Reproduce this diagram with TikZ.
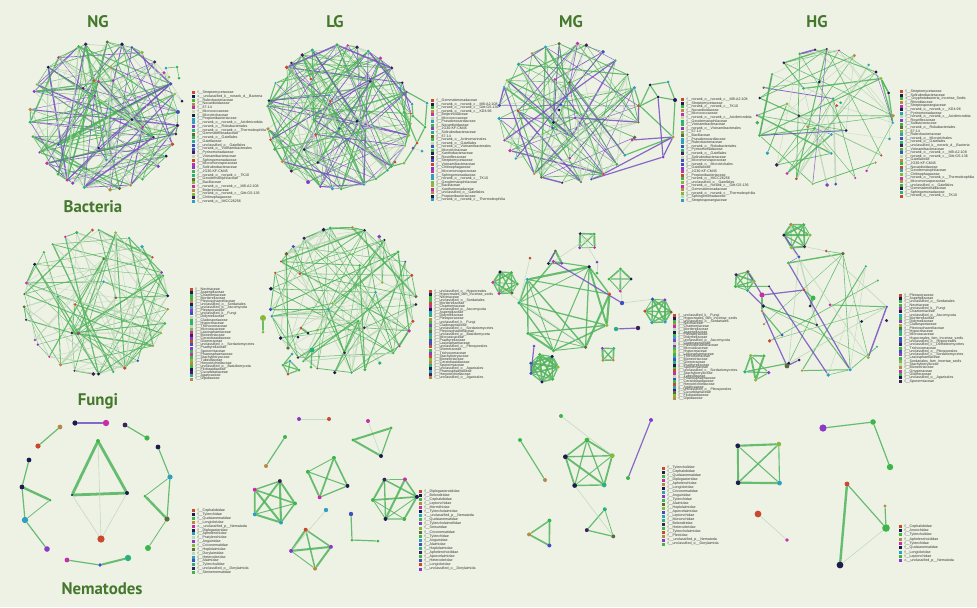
\documentclass[tikz,border=0pt]{standalone}
\usepackage{fontspec}
\setmainfont{Liberation Sans}
\newfontfamily\headfont{PT Sans}
\usetikzlibrary{backgrounds}
\definecolor{cBg}{HTML}{EEF2E5}
\definecolor{cHead}{HTML}{44782C}
\definecolor{eG}{HTML}{4FB35B}
\definecolor{eP}{HTML}{7650C2}
\definecolor{eL}{HTML}{BCD8B8}
\definecolor{n1}{HTML}{C8492E}
\definecolor{n2}{HTML}{1C1C4E}
\definecolor{n3}{HTML}{3DB54A}
\definecolor{n4}{HTML}{B58A45}
\definecolor{n5}{HTML}{C52FA8}
\definecolor{n6}{HTML}{2F9FBF}
\definecolor{n7}{HTML}{8A39C9}
\definecolor{n8}{HTML}{5E6B3A}
\definecolor{n9}{HTML}{3F4FC0}
\definecolor{n10}{HTML}{86B83C}
\definecolor{n11}{HTML}{2AB07F}
\definecolor{n12}{HTML}{40205A}
\pgfmathdeclarerandomlist{ncol}{{n1}{n2}{n3}{n4}{n5}{n6}{n7}{n8}{n9}{n10}{n11}{n12}{n3}{n2}}
\pgfmathdeclarerandomlist{bcol}{{eG}{eG}{eG}{eG}{eP}{eP}{eL}{eL}}
\pgfmathdeclarerandomlist{hcol}{{eG}{eG}{eG}{eG}{eG}{eP}{eL}{eL}{eL}}
\pgfmathdeclarerandomlist{fcol}{{eG}{eG}{eG}{eG}{eG}{eL}{eL}{eL}}
\tikzset{
  dot/.style={circle, inner sep=0pt, minimum size=1.5pt},
  bead/.style={circle, inner sep=0pt, minimum size=2.5pt},
  link/.style={line cap=round, opacity=0.85},
  faint/.style={link, draw=eL, line width=0.3pt},
  gl/.style={link, draw=eG, line width=0.6pt},
  pl/.style={link, draw=eP, line width=0.6pt},
  head/.style={font=\headfont\bfseries\fontsize{8.4}{9}\selectfont, text=cHead, inner sep=0pt},
  lgbox/.style={inner sep=0pt, minimum size=1.5pt},
  lgtext/.style={font=\fontsize{1.8}{2}\selectfont, inner sep=0.2pt, anchor=west, text=black!80},
}
\begin{document}
\begin{tikzpicture}[x=0.5pt, y=-0.5pt]
  \path[use as bounding box] (0,0) rectangle (977,607);
  \begin{scope}[on background layer]
    \fill[cBg] (0,0) rectangle (977,607);
  \end{scope}

  % --- headings ---
  \node[head] (hng) at (98,22) {NG};
  \node[head] (hlg) at (335,22) {LG};
  \node[head] (hmg) at (571,22) {MG};
  \node[head] (hhg) at (817,22) {HG};
  \node[head] (hbac) at (93,207) {Bacteria};
  \node[head] (hfun) at (98,401) {Fungi};
  \node[head] (hnem) at (102,589) {Nematodes};

  % --- circular networks ---
  \foreach \pn/\cx/\cy/\rr/\nr/\ni/\ne/\el/\sd in
     {bng/104/116/74/34/16/200/bcol/3,
      blg/339/117/72/32/12/200/bcol/5,
      bmg/569/113/70/28/12/130/bcol/7,
      bhg/825/117/68/30/12/75/hcol/9,
      fng/96/302/72/32/8/120/fcol/11,
      flg/343/300/73/32/10/130/fcol/13,
      fhg/825/313/62/18/3/26/hcol/17} {
    \pgfmathsetseed{\sd}
    \pgfmathtruncatemacro\nn{\nr+\ni}
    \foreach \i in {1,...,\nr} {
      \pgfmathrandomitem\nc{ncol}
      \pgfmathsetmacro\ang{(\i-0.5)*360/\nr+5*rand}
      \pgfmathsetmacro\sz{1.1+0.9*rnd}
      \node[dot, fill=\nc, minimum size=\sz pt] (\pn\i) at ([shift={(\cx,\cy)}]\ang:\rr) {};
    }
    \foreach \i in {1,...,\ni} {
      \pgfmathtruncatemacro\jj{\nr+\i}
      \pgfmathrandomitem\nc{ncol}
      \pgfmathsetmacro\ang{360*rnd}
      \pgfmathsetmacro\rad{\rr*(0.1+0.65*rnd)}
      \node[dot, fill=\nc] (\pn\jj) at ([shift={(\cx,\cy)}]\ang:\rad) {};
    }
    \begin{scope}[on background layer]
      \foreach \k in {1,...,\ne} {
        \pgfmathtruncatemacro\ia{random(1,\nn)}
        \pgfmathtruncatemacro\ib{random(1,\nn)}
        \pgfmathtruncatemacro\ib{\ib==\ia ? mod(\ia,\nn)+1 : \ib}
        \pgfmathrandomitem\ec{\el}
        \pgfmathsetmacro\w{0.2+0.7*rnd*rnd}
        \draw[link, draw=\ec, line width=\w pt] (\pn\ia) -- (\pn\ib);
      }
    \end{scope}
  }

  % --- small cliques ---
  \foreach \pn/\cx/\cy/\rr/\nk/\rot/\ns/\pr/\sd in
     {fmg/565/306/46/9/-100/1.8/0.6/41,
      fmqa/505/283/12/6/0/1.8/1/21, fmqb/587/241/10/4/45/1.6/1/22,
      fmqc/658/311/13/6/0/1.8/1/23, fmqd/620/280/11/4/0/1.6/1/24,
      fmqe/608/354/8/4/45/1.6/1/25, fmqf/544/368/14/7/0/1.8/1/26,
      fmqg/555/259/8/3/30/1.6/1/27,
      fhqa/797/236/13/6/0/1.8/0.9/31, fhqb/744/281/10/5/0/1.8/1/32,
      fhqc/757/367/13/5/20/1.8/0.9/33,
      nlqa/273/502/22/5/0/2/1/51, nlqb/328/478/21/4/20/2/1/52,
      nlqc/311/549/20/4/-10/2/1/53, nlqd/395/499/22/6/0/2/0.9/54,
      nmqa/589/465/25/5/-90/2.4/1/61, nmqb/543/533/14/3/-60/2/1/62,
      nmqc/602/525/16/3/-80/2/1/63,
      nhqa/759/464/28/4/45/2.4/1/71} {
    \pgfmathsetseed{\sd}
    \foreach \i in {1,...,\nk} {
      \pgfmathrandomitem\nc{ncol}
      \pgfmathsetmacro\ang{\i*360/\nk+\rot+6*rand}
      \node[dot, fill=\nc, minimum size=\ns pt] (\pn\i) at ([shift={(\cx,\cy)}]\ang:\rr) {};
    }
    \begin{scope}[on background layer]
      \foreach \ia in {1,...,\nk} {
        \foreach \ib in {1,...,\nk} {
          \ifnum\ia<\ib
            \pgfmathsetmacro\w{0.35+0.75*rnd}
            \pgfmathsetmacro\dr{rnd<\pr ? 1 : 0}
            \ifdim\dr pt>0.5pt
              \draw[link, draw=eG, line width=\w pt] (\pn\ia) -- (\pn\ib);
            \fi
          \fi
        }
      }
    \end{scope}
  }

  % --- bacteria extras ---
  \node[dot, fill=n6] (bngx1) at (166,68) {};
  \node[dot, fill=n3] (bngx2) at (177,67) {};
  \node[dot, fill=n3] (bngx3) at (179,78) {};
  \node[dot, fill=n10] (bngx4) at (169,77) {};
  \node[dot, fill=n2] (bngx5) at (182,101) {};
  \node[dot, fill=n6] (blgx1) at (400,88) {};
  \node[dot, fill=n6] (blgx2) at (427,103) {};
  \node[dot, fill=n6] (blgx3) at (412,104) {};
  \node[dot, fill=n3] (blgx4) at (404,112) {};
  \node[dot, fill=n3] (blgx5) at (413,116) {};
  \node[dot, fill=n3] (blgx6) at (425,127) {};
  \node[dot, fill=n1] (blgx7) at (417,143) {};
  \node[dot, fill=n7] (blgx8) at (413,148) {};
  \node[dot, fill=n6] (blgx9) at (422,151) {};
  \node[dot, fill=n10] (blgx10) at (404,163) {};
  \node[dot, fill=n1] (blgx11) at (395,162) {};
  \node[dot, fill=n2] (bmgx1) at (650,85) {};
  \node[dot, fill=n6] (bmgx2) at (668,82) {};
  \node[dot, fill=n2] (bmgx3) at (658,97) {};
  \node[dot, fill=n2, minimum size=2pt] (bmgx4) at (675,100) {};
  \node[dot, fill=n3] (bmgx5) at (640,106) {};
  \node[dot, fill=n4] (bmgx6) at (673,137) {};
  \node[dot, fill=n7] (bmgx7) at (663,157) {};
  \node[dot, fill=n5] (bmgx8) at (632,140) {};
  \begin{scope}[on background layer]
    \draw[gl, line width=0.3pt] (bngx1) -- (bngx2) -- (bngx3);
    \draw[faint] (bngx4) -- (bngx1);
    \draw[faint] (bngx4) -- (bng30);
    \draw[faint] (bngx5) -- (bng33);
    \draw[faint] (bngx5) -- (bng31);
    \draw[gl] (blgx1) -- (blgx2);
    \draw[gl] (blgx1) -- (blgx4);
    \draw[gl] (blgx3) -- (blgx5);
    \draw[gl] (blgx2) -- (blgx6);
    \draw[gl] (blgx5) -- (blgx6);
    \draw[gl] (blgx4) -- (blgx7);
    \draw[gl] (blgx6) -- (blgx7);
    \draw[pl, line width=0.3pt] (blgx7) -- (blgx8);
    \draw[faint] (blgx8) -- (blgx9);
    \draw[gl] (blgx7) -- (blgx10);
    \draw[gl] (blgx1) -- (blg30);
    \draw[gl] (blgx4) -- (blg31);
    \draw[gl] (blgx4) -- (blg2);
    \draw[gl] (blgx10) -- (blg4);
    \draw[gl] (blgx11) -- (blg5);
    \draw[pl] (blgx3) -- (blg27);
    \draw[gl] (bmgx1) -- (bmgx2);
    \draw[gl] (bmgx2) -- (bmgx4);
    \draw[gl] (bmgx1) -- (bmgx3);
    \draw[gl] (bmgx3) -- (bmgx4);
    \draw[gl] (bmgx1) -- (bmgx5);
    \draw[gl] (bmgx3) -- (bmgx5);
    \draw[gl] (bmgx5) -- (bmgx6);
    \draw[gl] (bmgx4) -- (bmgx6);
    \draw[pl] (bmgx6) -- (bmgx7);
    \draw[pl] (bmgx3) -- (bmgx7);
    \draw[pl] (bmgx6) -- (bmgx8);
    \draw[gl] (bmgx5) -- (bmg27);
    \draw[pl] (bmgx8) -- (bmg2);
    \draw[gl] (bmgx6) -- (bmg3);
    \draw[pl] (bmgx7) -- (bmg6);
    \draw[pl] (bmgx6) -- (bmg5);
  \end{scope}

  % --- fungi extras ---
  \node[bead, fill=n10, minimum size=3pt] (flgx1) at (263,318) {};
  \node[dot, fill=n10] (flgx2) at (263,332) {};
  \node[dot, fill=n2] (flgx3) at (298,337) {};
  \node[dot, fill=n1] (flgx4) at (301,328) {};
  \node[dot, fill=n2] (flgx5) at (308,333) {};
  \node[dot, fill=n6] (flgx6) at (292,354) {};
  \node[bead, fill=n11] (flgx7) at (312,350) {};
  \node[dot, fill=n3] (flgx8) at (311,367) {};
  \node[dot, fill=n3] (flgx9) at (283,365) {};
  \node[dot, fill=n6] (flgx10) at (290,361) {};
  \node[dot, fill=n3] (flgx11) at (299,370) {};
  \node[dot, fill=n1] (flgx12) at (288,374) {};
  \node[dot, fill=n1] (fmgx1) at (530,258) {};
  \node[dot, fill=n9, minimum size=2.2pt] (fmgx2) at (622,303) {};
  \node[dot, fill=n11, minimum size=2.2pt] (fmgx3) at (616,329) {};
  \node[dot, fill=n12, minimum size=2.2pt] (fmgx4) at (638,328) {};
  \node[dot, fill=n7] (fmgx5) at (534,346) {};
  \node[dot, fill=n7] (fmgx6) at (597,262) {};
  \node[dot, fill=n3] (fmgx7) at (597,273) {};
  \node[bead, fill=n5, minimum size=2.6pt] (fhgx1) at (762,295) {};
  \node[dot, fill=n4] (fhgx2) at (762,311) {};
  \node[dot, fill=n9] (fhgx3) at (782,335) {};
  \node[dot, fill=n1] (fhgx4) at (804,290) {};
  \node[bead, fill=n3] (fhgx5) at (813,298) {};
  \node[dot, fill=n2] (fhgx6) at (810,306) {};
  \node[dot, fill=n8, minimum size=2.4pt] (fhgx7) at (787,366) {};
  \node[dot, fill=n12] (fhgx8) at (799,360) {};
  \begin{scope}[on background layer]
    \draw[gl] (flgx1) -- (flgx2);
    \draw[gl, line width=1pt] (flgx4) -- (flgx5);
    \draw[faint] (flgx3) -- (flgx6);
    \draw[gl] (flgx6) -- (flgx9);
    \draw[gl] (flgx7) -- (flgx8);
    \draw[gl] (flgx9) -- (flgx10) -- (flgx11) -- (flgx12) -- (flgx9);
    \draw[gl] (flgx9) -- (flgx11);
    \draw[gl] (flgx10) -- (flgx12);
    \draw[faint] (flgx7) -- (flg13);
    \draw[faint] (fmgx1) -- (fmg7);
    \draw[pl] (fmgx2) -- (fmg9);
    \draw[faint] (fmgx2) -- (fmqc4);
    \draw[pl] (fmgx3) -- (fmgx4);
    \draw[pl] (fmgx5) -- (fmqf3);
    \draw[faint] (fmqb2) -- (fmgx6);
    \draw[faint] (fmgx6) -- (fmgx7);
    \draw[faint] (fmqb3) -- (fmg9);
    \draw[pl] (fmqg1) -- (fmqg2);
    \draw[faint] (fmqd3) -- (fmgx2);
    \draw[faint] (fmqa3) -- (fmg4);
    \draw[pl] (fhgx1) -- (fhgx4);
    \draw[pl] (fhgx1) -- (fhqb4);
    \draw[gl] (fhgx1) -- (fhgx2);
    \draw[gl] (fhgx2) -- (fhgx3);
    \draw[gl] (fhgx4) -- (fhgx5);
    \draw[gl, line width=1pt] (fhgx5) -- (fhgx6);
    \draw[pl] (fhgx2) -- (fhgx7);
    \draw[pl] (fhgx7) -- (fhgx8);
    \draw[pl] (fhqa3) -- (fhg13);
    \draw[faint] (fhqa1) -- (fhg14);
    \draw[pl] (fhqb1) -- (fhg10);
    \draw[gl] (fhqb2) -- (fhg11);
    \draw[pl] (fhg12) -- (fhg4);
    \draw[pl] (fhg11) -- (fhg5);
    \draw[gl] (fhqc2) -- (fhg7);
    \draw[faint] (fhqa2) -- (fhg3);
  \end{scope}

  % --- nematodes, NG ---
  \node[bead, fill=n2, minimum size=2.6pt] (nng1) at (75,423) {};
  \node[bead, fill=n5, minimum size=3.2pt] (nng2) at (106,423) {};
  \node[bead, fill=n12, minimum size=2.4pt] (nng3) at (125,425) {};
  \node[bead, fill=n3, minimum size=2.6pt] (nng4) at (147,438) {};
  \node[bead, fill=n4, minimum size=2.4pt] (nng5) at (60,427) {};
  \node[bead, fill=n1, minimum size=2.6pt] (nng6) at (38,446) {};
  \node[bead, fill=n2, minimum size=2.4pt] (nng7) at (158,447) {};
  \node[bead, fill=n6, minimum size=2.6pt] (nng8) at (170,477) {};
  \node[bead, fill=n2, minimum size=2.4pt] (nng9) at (29,460) {};
  \node[bead, fill=n2, minimum size=2.4pt] (nng10) at (22,487) {};
  \node[dot, fill=n3] (nng11) at (50,500) {};
  \node[bead, fill=n6, minimum size=3.2pt] (nng12) at (25,520) {};
  \node[bead, fill=n7, minimum size=2.8pt] (nng13) at (47,549) {};
  \node[dot, fill=n3] (nng14) at (145,496) {};
  \node[bead, fill=n8, minimum size=2.6pt] (nng15) at (167,519) {};
  \node[bead, fill=n3, minimum size=3pt] (nng16) at (148,548) {};
  \node[bead, fill=n5, minimum size=2.4pt] (nng17) at (67,560) {};
  \node[dot, fill=n9, minimum size=1.8pt] (nng18) at (100,565) {};
  \node[bead, fill=n11, minimum size=3.2pt] (nng19) at (128,558) {};
  \node[dot, fill=n3, minimum size=2pt] (nng20) at (98,441) {};
  \node[dot, fill=n2, minimum size=1.2pt] (nng21) at (72,495) {};
  \node[dot, fill=n2, minimum size=2pt] (nng22) at (127,493) {};
  \node[bead, fill=n1, minimum size=3.6pt] (nng23) at (101,539) {};
  \begin{scope}[on background layer]
    \draw[pl, line width=0.9pt] (nng1) -- (nng2);
    \draw[gl] (nng3) -- (nng4);
    \draw[gl] (nng5) -- (nng6);
    \draw[gl] (nng7) -- (nng8);
    \draw[gl] (nng9) -- (nng10);
    \draw[gl, line width=1.2pt] (nng10) -- (nng11);
    \draw[gl] (nng10) -- (nng12);
    \draw[gl, line width=0.4pt] (nng11) -- (nng12);
    \draw[gl] (nng12) -- (nng13);
    \draw[gl, line width=0.4pt] (nng8) -- (nng14);
    \draw[gl, line width=1.2pt] (nng14) -- (nng15);
    \draw[gl] (nng8) -- (nng15);
    \draw[gl, line width=0.4pt] (nng15) -- (nng16);
    \draw[gl] (nng17) -- (nng18);
    \draw[gl, line width=1pt] (nng18) -- (nng19);
    \draw[gl, line width=1.4pt] (nng20) -- (nng21);
    \draw[gl, line width=1.4pt] (nng20) -- (nng22);
    \draw[gl, line width=1.4pt] (nng21) -- (nng22);
    \draw[faint] (nng21) -- (nng23);
    \draw[faint] (nng22) -- (nng23);
    \draw[faint] (nng20) -- (nng23);
  \end{scope}

  % --- nematodes, LG ---
  \node[dot, fill=n7, minimum size=2pt] (nlg1) at (299,419) {};
  \node[dot, fill=n1, minimum size=2pt] (nlg2) at (329,419) {};
  \node[dot, fill=n3, minimum size=2pt] (nlg3) at (285,437) {};
  \node[dot, fill=n4, minimum size=2pt] (nlg4) at (266,466) {};
  \node[dot, fill=n5, minimum size=2pt] (nlg5) at (368,421) {};
  \node[dot, fill=n3, minimum size=1.6pt] (nlg6) at (353,440) {};
  \node[dot, fill=n3, minimum size=1.6pt] (nlg7) at (391,428) {};
  \node[dot, fill=n2, minimum size=2pt] (nlg8) at (381,456) {};
  \node[dot, fill=n6, minimum size=2.2pt] (nlg9) at (326,510) {};
  \node[dot, fill=n9, minimum size=2.2pt] (nlg10) at (351,514) {};
  \node[dot, fill=n3, minimum size=1.5pt] (nlg11) at (352,540) {};
  \node[dot, fill=n3, minimum size=1.5pt] (nlg12) at (378,541) {};
  \begin{scope}[on background layer]
    \draw[faint] (nlg1) -- (nlg2);
    \draw[gl] (nlg3) -- (nlg4);
    \draw[faint] (nlg5) -- (nlg8);
    \draw[gl, line width=1pt] (nlg6) -- (nlg7);
    \draw[gl] (nlg7) -- (nlg8);
    \draw[gl, line width=1pt] (nlg6) -- (nlg8);
    \draw[faint] (nlg9) -- (nlqc2);
    \draw[gl] (nlg10) -- (nlg11) -- (nlg12);
  \end{scope}

  % --- nematodes, MG ---
  \node[dot, fill=n3, minimum size=2pt] (nmg1) at (561,416) {};
  \node[dot, fill=n3, minimum size=2pt] (nmg2) at (520,440) {};
  \node[dot, fill=n4, minimum size=2pt] (nmg3) at (545,480) {};
  \node[dot, fill=n7, minimum size=2pt] (nmg4) at (651,420) {};
  \node[dot, fill=n3, minimum size=2pt] (nmg5) at (628,478) {};
  \begin{scope}[on background layer]
    \draw[faint] (nmg1) -- (nmqa1);
    \draw[gl] (nmg2) -- (nmg3);
    \draw[pl] (nmg4) -- (nmg5);
    \draw[faint] (nmqa3) -- (nmqc1);
  \end{scope}

  % --- nematodes, HG ---
  \node[bead, fill=n1, minimum size=3.4pt] (nhg1) at (758,514) {};
  \node[dot, fill=n5, minimum size=1.8pt] (nhg2) at (787,540) {};
  \node[bead, fill=n7, minimum size=3.6pt] (nhg3) at (823,428) {};
  \node[bead, fill=n3, minimum size=2.8pt] (nhg4) at (873,422) {};
  \node[bead, fill=n3, minimum size=3.2pt] (nhg5) at (890,467) {};
  \node[bead, fill=n1, minimum size=2.4pt] (nhg6) at (847,484) {};
  \node[bead, fill=n3, minimum size=3.8pt] (nhg7) at (886,528) {};
  \node[bead, fill=n2, minimum size=3.4pt] (nhg8) at (840,565) {};
  \node[dot, fill=n4, minimum size=1.6pt] (nhg9) at (885,506) {};
  \begin{scope}[on background layer]
    \draw[faint] (nhg1) -- (nhg2);
    \draw[gl] (nhg3) -- (nhg4);
    \draw[gl] (nhg4) -- (nhg5);
    \draw[gl, line width=1.2pt] (nhg6) -- (nhg8);
    \draw[gl] (nhg6) -- (nhg7);
    \draw[gl] (nhg7) -- (nhg9);
    \draw[faint] (nhg7) -- (nhg8);
  \end{scope}

  % --- legends ---
  \foreach \col/\lab [count=\k] in {n1/f\_\_Streptomycetaceae, n2/c\_\_unclassified\_k\_\_norank\_d\_\_Bacteria, n3/f\_\_Rubrobacteriaceae, n4/f\_\_Nocardioidaceae, n5/f\_\_67-14, eL/f\_\_Micrococcaceae, n2/f\_\_Microtrichaceae, n6/f\_\_Propionibacteriaceae, n6/f\_\_norank\_o\_\_norank\_c\_\_Acidimicrobiia, n7/f\_\_norank\_o\_\_Rokubacteriales, n11/f\_\_norank\_o\_\_norank\_c\_\_Thermoleophilia, n8/f\_\_Gemmatimonadaceae, n3/f\_\_norank\_o\_\_Gaiellales, n6/f\_\_Gaiellaceae, n9/f\_\_unclassified\_o\_\_Gaiellales, n9/f\_\_norank\_o\_\_Vicinamibacterales, n12/f\_\_Pyrinomonadaceae, eL/f\_\_Vicinamibacteraceae, n1/f\_\_Sphingomonadaceae, n5/f\_\_Micromonosporaceae, n7/f\_\_Solirubrobacteraceae, n3/f\_\_JG30-KF-CM45, n11/f\_\_norank\_o\_\_norank\_c\_\_TK10, n8/f\_\_Geodermatophilaceae, n10/f\_\_Bacillaceae, n5/f\_\_norank\_o\_\_norank\_c\_\_MB-A2-108, n4/f\_\_Beijerinckiaceae, n10/f\_\_norank\_o\_\_norank\_c\_\_Gitt-GS-136, n12/f\_\_Chitinophagaceae, n6/f\_\_norank\_o\_\_IMCC26256} {
    \node[lgbox, fill=\col] (lbng\k) at (193,{89+3.75*\k}) {};
    \node[lgtext] (tbng\k) at ([xshift=1pt]lbng\k.east) {\lab};
  }
  \foreach \col/\lab [count=\k] in {n1/f\_\_Gemmatimonadaceae, n2/f\_\_norank\_o\_\_norank\_c\_\_MB-A2-108, n3/f\_\_norank\_o\_\_norank\_c\_\_Gitt-GS-136, n4/f\_\_norank\_o\_\_norank\_c\_\_KD4-96, n5/f\_\_Beijerinckiaceae, eL/f\_\_Micrococcaceae, n6/f\_\_Pseudonocardiaceae, n3/f\_\_Nocardioidaceae, n7/f\_\_JG30-KF-CM45, n11/f\_\_Solirubrobacteraceae, n8/f\_\_67-14, n3/f\_\_norank\_o\_\_Actinomarinales, eL/f\_\_norank\_o\_\_Gaiellales, n9/f\_\_norank\_o\_\_Vicinamibacterales, n3/f\_\_Microtrichaceae, n2/f\_\_Xanthobacteraceae, n12/f\_\_Roseiflexaceae, n9/f\_\_Streptomycetaceae, n1/f\_\_Vicinamibacteraceae, n7/f\_\_Chitinophagaceae, n5/f\_\_Micromonosporaceae, n6/f\_\_Sphingomonadaceae, n6/f\_\_norank\_o\_\_norank\_c\_\_TK10, n10/f\_\_Geodermatophilaceae, n10/f\_\_Bacillaceae, n5/f\_\_Xanthomonadaceae, n4/f\_\_unclassified\_o\_\_Gaiellales, n2/f\_\_Propionibacteriaceae, n6/f\_\_norank\_o\_\_norank\_c\_\_Thermoleophilia} {
    \node[lgbox, fill=\col] (lblg\k) at (432,{97+3.55*\k}) {};
    \node[lgtext] (tblg\k) at ([xshift=1pt]lblg\k.east) {\lab};
  }
  \foreach \col/\lab [count=\k] in {n1/f\_\_norank\_o\_\_norank\_c\_\_MB-A2-108, n2/f\_\_Streptomycetaceae, n3/f\_\_norank\_o\_\_norank\_c\_\_TK10, n4/f\_\_Nocardioidaceae, n5/f\_\_Micrococcaceae, eL/f\_\_norank\_o\_\_norank\_c\_\_Acidimicrobiia, n11/f\_\_Geodermatophilaceae, n3/f\_\_Vicinamibacteraceae, n7/f\_\_norank\_o\_\_Vicinamibacterales, n10/f\_\_67-14, n8/f\_\_Bacillaceae, n6/f\_\_Pseudonocardiaceae, n6/f\_\_Rubrobacteriaceae, n9/f\_\_norank\_o\_\_Rokubacteriales, n11/f\_\_Pyrinomonadaceae, n12/f\_\_norank\_o\_\_Gaiellales, eL/f\_\_Solirubrobacteraceae, n9/f\_\_Micromonosporaceae, n9/f\_\_norank\_o\_\_Microtrichales, n7/f\_\_Gaiellaceae, n5/f\_\_JG30-KF-CM45, n1/f\_\_Propionibacteriaceae, n3/f\_\_norank\_o\_\_IMCC26256, n10/f\_\_unclassified\_o\_\_Gaiellales, n5/f\_\_norank\_o\_\_norank\_c\_\_Gitt-GS-136, n4/f\_\_Gemmatimonadaceae, n10/f\_\_norank\_o\_\_norank\_c\_\_Thermoleophilia, eL/f\_\_Sphingomonadaceae, n6/f\_\_Streptosporangiaceae} {
    \node[lgbox, fill=\col] (lbmg\k) at (682,{96+3.6*\k}) {};
    \node[lgtext] (tbmg\k) at ([xshift=1pt]lbmg\k.east) {\lab};
  }
  \foreach \col/\lab [count=\k] in {n1/f\_\_Streptomycetaceae, n2/f\_\_Solirubrobacteraceae, n3/c\_\_Oxyphotobacteria\_Incertae\_Sedis, n4/f\_\_Rhizobiaceae, n5/f\_\_Streptosporangiaceae, n2/f\_\_norank\_o\_\_norank\_c\_\_KD4-96, n6/f\_\_Pyrinomonadaceae, eL/f\_\_norank\_o\_\_norank\_c\_\_Acidimicrobiia, n7/f\_\_Roseiflexaceae, n3/f\_\_Solibacteraceae, n8/f\_\_norank\_o\_\_Rokubacteriales, n10/f\_\_67-14, n6/f\_\_Rubrobacteriaceae, n9/f\_\_norank\_o\_\_Microtrichales, n11/f\_\_norank\_o\_\_Gaiellales, n12/f\_\_unclassified\_k\_\_norank\_d\_\_Bacteria, n3/f\_\_Vicinamibacteraceae, n9/f\_\_norank\_o\_\_norank\_c\_\_MB-A2-108, eL/f\_\_norank\_o\_\_norank\_c\_\_Gitt-GS-136, n4/f\_\_Gaiellaceae, n3/f\_\_JG30-KF-CM45, n1/f\_\_Nocardioidaceae, n6/f\_\_Geodermatophilaceae, n10/f\_\_Chitinophagaceae, n5/f\_\_norank\_o\_\_norank\_c\_\_Thermoleophilia, n4/f\_\_Micromonosporaceae, n3/f\_\_unclassified\_o\_\_Gaiellales, n2/f\_\_Gemmatimonadaceae, n11/f\_\_Sphingomonadaceae, n1/f\_\_norank\_o\_\_norank\_c\_\_TK10} {
    \node[lgbox, fill=\col] (lbhg\k) at (901,{88+3.6*\k}) {};
    \node[lgtext] (tbhg\k) at ([xshift=1pt]lbhg\k.east) {\lab};
  }
  \foreach \col/\lab [count=\k] in {n1/f\_\_Nectriaceae, n2/f\_\_Aspergillaceae, n3/f\_\_Chaetomiaceae, n3/f\_\_Mortierellaceae, n4/f\_\_Plectosphaerellaceae, n2/f\_\_unclassified\_o\_\_Sordariales, n6/f\_\_unclassified\_p\_\_Ascomycota, n7/f\_\_Pleosporaceae, n9/f\_\_unclassified\_k\_\_Fungi, eL/f\_\_Didymellaceae, n3/f\_\_Cladosporiaceae, n11/f\_\_Hypocreaceae, eL/f\_\_Trichocomaceae, n10/f\_\_Microascaceae, n5/f\_\_Lasiosphaeriaceae, n12/f\_\_Bionectriaceae, n7/f\_\_Ceratobasidiaceae, n1/f\_\_Glomeraceae, n9/f\_\_unclassified\_c\_\_Sordariomycetes, n7/f\_\_Psathyrellaceae, n3/f\_\_Sporormiaceae, n5/f\_\_Phaeosphaeriaceae, n3/f\_\_Stachybotryaceae, n10/f\_\_Tubeufiaceae, n4/f\_\_Herpotrichiellaceae, n3/f\_\_unclassified\_p\_\_Basidiomycota, n2/f\_\_Filobasidiaceae, n12/f\_\_Cucurbitariaceae, n6/f\_\_Agaricaceae, n4/f\_\_Olpidiaceae} {
    \node[lgbox, fill=\col] (lfng\k) at (191,{286+3.1*\k}) {};
    \node[lgtext] (tfng\k) at ([xshift=1pt]lfng\k.east) {\lab};
  }
  \foreach \col/\lab [count=\k] in {n1/f\_\_unclassified\_o\_\_Hypocreales, n2/f\_\_Hypocreales\_fam\_Incertae\_sedis, n3/f\_\_Nectriaceae, n3/f\_\_unclassified\_o\_\_Sordariales, n1/f\_\_Mortierellaceae, n5/f\_\_Chaetomiaceae, n2/f\_\_unclassified\_p\_\_Ascomycota, n6/f\_\_Aspergillaceae, n11/f\_\_Didymellaceae, n4/f\_\_Pleosporaceae, n3/f\_\_unclassified\_k\_\_Fungi, n7/f\_\_Cladosporiaceae, n3/f\_\_unclassified\_c\_\_Sordariomycetes, n8/f\_\_Plectosphaerellaceae, n6/f\_\_unclassified\_p\_\_Basidiomycota, n3/f\_\_Microascaceae, n9/f\_\_Psathyrellaceae, n9/f\_\_Lasiosphaeriaceae, n1/f\_\_unclassified\_o\_\_Pleosporales, n3/f\_\_Glomeraceae, n7/f\_\_Trichocomaceae, n1/f\_\_Stachybotryaceae, n10/f\_\_Bionectriaceae, n4/f\_\_Ceratobasidiaceae, n11/f\_\_Sporormiaceae, n2/f\_\_unclassified\_o\_\_Agaricales, n6/f\_\_Phaeosphaeriaceae, n12/f\_\_Herpotrichiellaceae, n4/f\_\_unclassified\_o\_\_Agaricales} {
    \node[lgbox, fill=\col] (lflg\k) at (430,{288+3.1*\k}) {};
    \node[lgtext] (tflg\k) at ([xshift=1pt]lflg\k.east) {\lab};
  }
  \foreach \col/\lab [count=\k] in {n1/f\_\_unclassified\_k\_\_Fungi, n2/f\_\_Hypocreales\_fam\_Incertae\_sedis, n3/f\_\_unclassified\_o\_\_Sordariales, n4/f\_\_Nectriaceae, n5/f\_\_Chaetomiaceae, eL/f\_\_Mortierellaceae, n2/f\_\_Aspergillaceae, n3/f\_\_Pleosporaceae, n6/f\_\_Didymellaceae, n7/f\_\_unclassified\_p\_\_Ascomycota, eL/f\_\_Cladosporiaceae, n7/f\_\_Plectosphaerellaceae, n3/f\_\_Microascaceae, n10/f\_\_Hypocreaceae, n3/f\_\_Lasiosphaeriaceae, n6/f\_\_Trichocomaceae, n9/f\_\_Bionectriaceae, n11/f\_\_Glomeraceae, n2/f\_\_Psathyrellaceae, n3/f\_\_Sporormiaceae, n1/f\_\_unclassified\_c\_\_Sordariomycetes, n5/f\_\_Stachybotryaceae, eL/f\_\_Tubeufiaceae, n9/f\_\_Phaeosphaeriaceae, n3/f\_\_Ceratobasidiaceae, n1/f\_\_Herpotrichiellaceae, n6/f\_\_Agaricaceae, n12/f\_\_unclassified\_o\_\_Pleosporales, n8/f\_\_Cucurbitariaceae, n10/f\_\_Filobasidiaceae, n4/f\_\_Olpidiaceae} {
    \node[lgbox, fill=\col] (lfmg\k) at (674,{313+2.75*\k}) {};
    \node[lgtext] (tfmg\k) at ([xshift=1pt]lfmg\k.east) {\lab};
  }
  \foreach \col/\lab [count=\k] in {n1/f\_\_Pleosporaceae, n2/f\_\_Aspergillaceae, n3/f\_\_unclassified\_o\_\_Sordariales, n3/f\_\_Nectriaceae, n5/f\_\_unclassified\_k\_\_Fungi, n2/f\_\_Chaetomiaceae, n6/f\_\_unclassified\_p\_\_Ascomycota, n3/f\_\_Mortierellaceae, n7/f\_\_Didymellaceae, n10/f\_\_Cladosporiaceae, n8/f\_\_Plectosphaerellaceae, n6/f\_\_Hypocreaceae, n3/f\_\_Microascaceae, n9/f\_\_Hypocreales\_fam\_Incertae\_sedis, n9/f\_\_unclassified\_o\_\_Hypocreales, n12/f\_\_unclassified\_c\_\_Dothideomycetes, n3/f\_\_Trichocomaceae, n9/f\_\_unclassified\_o\_\_Pleosporales, n7/f\_\_unclassified\_c\_\_Sordariomycetes, n3/f\_\_Lasiosphaeriaceae, n10/f\_\_Sordariales\_fam\_Incertae\_sedis, eL/f\_\_Stachybotryaceae, n4/f\_\_Bionectriaceae, n5/f\_\_Onygenaceae, n3/f\_\_Glomeraceae, n2/f\_\_unclassified\_o\_\_Agaricales, n12/f\_\_Sporormiaceae} {
    \node[lgbox, fill=\col] (lfhg\k) at (900,{292+3.3*\k}) {};
    \node[lgtext] (tfhg\k) at ([xshift=1pt]lfhg\k.east) {\lab};
  }
  \foreach \col/\lab [count=\k] in {n1/f\_\_Cephalobidae, n2/f\_\_Tylenchidae, n3/f\_\_Qudsianematidae, n4/f\_\_Longidoridae, n5/c\_\_unclassified\_p\_\_Nematoda, n2/f\_\_Diplogasteridae, n6/f\_\_Aphelenchidae, eL/f\_\_Pratylenchidae, n7/f\_\_Anguinidae, n10/f\_\_Criconematidae, n8/f\_\_Hoplolaimidae, eL/f\_\_Dorylaimidae, n6/f\_\_Heteroderidae, n9/f\_\_Alaimidae, n11/f\_\_Tylenchulidae, n12/f\_\_unclassified\_o\_\_Dorylaimida, n3/f\_\_Steinernematidae} {
    \node[lgbox, fill=\col] (lnng\k) at (193,{507+3.85*\k}) {};
    \node[lgtext] (tnng\k) at ([xshift=1pt]lnng\k.east) {\lab};
  }
  \foreach \col/\lab [count=\k] in {n1/f\_\_Diplogasteroididae, n2/f\_\_Belondiridae, n3/f\_\_Cephalobidae, n4/f\_\_Leptonchidae, n5/f\_\_Mermithidae, n2/f\_\_Tylencholaimidae, n6/c\_\_unclassified\_p\_\_Nematoda, n3/f\_\_Qudsianematidae, n7/f\_\_Tylencholaimellidae, n10/f\_\_Seinuridae, n8/f\_\_Criconematidae, n3/f\_\_Tylenchidae, n6/f\_\_Anguinidae, n9/f\_\_Alaimidae, n11/f\_\_Hoplolaimidae, n12/f\_\_Aphelenchoididae, n3/f\_\_Aporcelaimidae, n9/f\_\_Heteroderidae, n1/f\_\_Longidoridae, n7/f\_\_unclassified\_o\_\_Dorylaimida} {
    \node[lgbox, fill=\col] (lnlg\k) at (420,{487+4.1*\k}) {};
    \node[lgtext] (tnlg\k) at ([xshift=1pt]lnlg\k.east) {\lab};
  }
  \foreach \col/\lab [count=\k] in {n1/f\_\_Tylenchulidae, n2/f\_\_Cephalobidae, n3/f\_\_Qudsianematidae, n5/f\_\_Diplogasteridae, n4/f\_\_Aphelenchidae, n2/f\_\_Longidoridae, n6/f\_\_Criconematidae, n7/f\_\_Anguinidae, n3/f\_\_Tylenchidae, n8/f\_\_Alaimidae, n10/f\_\_Hoplolaimidae, n9/f\_\_Aporcelaimidae, n6/f\_\_Leptonchidae, n11/f\_\_Mononchidae, n12/f\_\_Belondiridae, n3/f\_\_Heteroderidae, n1/f\_\_Tylencholaimidae, n4/f\_\_Plectidae, n7/c\_\_unclassified\_p\_\_Nematoda, n3/f\_\_unclassified\_o\_\_Dorylaimida} {
    \node[lgbox, fill=\col] (lnmg\k) at (663,{464+4*\k}) {};
    \node[lgtext] (tnmg\k) at ([xshift=1pt]lnmg\k.east) {\lab};
  }
  \foreach \col/\lab [count=\k] in {n1/f\_\_Cephalobidae, n2/f\_\_Anonchidae, n3/f\_\_Tylenchulidae, n4/f\_\_Aphelenchoididae, n5/f\_\_Tylenchidae, n2/f\_\_Qudsianematidae, n6/f\_\_Longidoridae, n3/f\_\_Leptonchidae, n7/c\_\_unclassified\_p\_\_Nematoda} {
    \node[lgbox, fill=\col] (lnhg\k) at (900,{522+4.3*\k}) {};
    \node[lgtext] (tnhg\k) at ([xshift=1pt]lnhg\k.east) {\lab};
  }
\end{tikzpicture}
\end{document}
